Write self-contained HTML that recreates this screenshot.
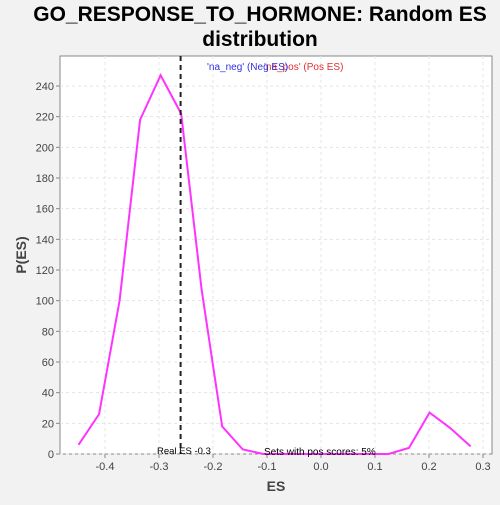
<!DOCTYPE html>
<html><head><meta charset="utf-8"><style>
body{margin:0;background:#f2f2f2;width:500px;height:500px;overflow:hidden;font-family:"Liberation Sans",sans-serif}
</style></head><body>
<svg width="500" height="500" xmlns="http://www.w3.org/2000/svg">
<rect x="0" y="0" width="500" height="500" fill="#f2f2f2"/>
<text x="260" y="21" text-anchor="middle" font-size="21" font-weight="bold" fill="#000">GO_RESPONSE_TO_HORMONE: Random ES</text>
<text x="260" y="46" text-anchor="middle" font-size="21" font-weight="bold" fill="#000">distribution</text>
<rect x="60" y="56" width="432" height="398" fill="#fff" stroke="#888"/>
<g id="grid"></g><g id="axes"></g><g id="series"></g>
<text x="276" y="491" text-anchor="middle" font-size="14" font-weight="bold" fill="#444">ES</text>
<text x="26" y="255" text-anchor="middle" font-size="14" font-weight="bold" fill="#444" transform="rotate(-90 26 255)">P(ES)</text>
<text x="264" y="70" font-size="10" fill="#e03030">'na_pos' (Pos ES)</text>
<text x="207" y="70" font-size="10" fill="#3030e0">'na_neg' (Neg ES)</text>
<text x="157" y="454" font-size="9.5" fill="#000">Real ES -0.3</text>
<text x="264" y="455" font-size="10" fill="#000">Sets with pos scores: 5%</text>
</svg>
<script>
const esValues=[-0.449,-0.411,-0.373,-0.335,-0.297,-0.259,-0.221,-0.183,-0.145,-0.107,-0.069,-0.031,0.007,0.049,0.087,0.125,0.163,0.201,0.239,0.277];
const density=[6,26,100,218,247,222,107,18,3,0,0,0,0,0,0,0,4,27,17,5];
const xTicks=[-0.4,-0.3,-0.2,-0.1,0.0,0.1,0.2,0.3];
const xTickLabels=["-0.4","-0.3","-0.2","-0.1","0.0","0.1","0.2","0.3"];
const yTicks=[0,20,40,60,80,100,120,140,160,180,200,220,240];
const realES=-0.26;
const NS="http://www.w3.org/2000/svg";
const X=v=>321+v*540;
const Y=v=>454-v*(368/240);
function mk(t,a,p){const e=document.createElementNS(NS,t);for(const k in a)e.setAttribute(k,a[k]);document.getElementById(p).appendChild(e);return e;}
xTicks.forEach((t,i)=>{
 const g=mk('line',{x1:X(t),x2:X(t),y1:56,y2:454,stroke:'#e4e4e4','stroke-dasharray':'3,3'},'grid');
 
 
 const tk=mk('line',{x1:X(t),x2:X(t),y1:454,y2:458,stroke:'#888'},'axes');
 
 
 const l=mk('text',{x:X(t),y:470,'text-anchor':'middle','font-size':11,fill:'#444'},'axes');
 l.textContent=xTickLabels[i];
 
 
});
yTicks.forEach(t=>{
 const g=mk('line',{x1:60,x2:492,y1:Y(t),y2:Y(t),stroke:'#e4e4e4','stroke-dasharray':'3,3'},'grid');
 
 
 const tk=mk('line',{x1:56,x2:60,y1:Y(t),y2:Y(t),stroke:'#888'},'axes');
 
 
 const l=mk('text',{x:54,y:Y(t)+4,'text-anchor':'end','font-size':11,fill:'#444'},'axes');
 l.textContent=t;
 
 
});
const pl=mk('polyline',{points:esValues.map((v,i)=>X(v)+','+Y(density[i])).join(' '),fill:'none',stroke:'#ff33ff','stroke-width':2},'series');


const rl=mk('line',{x1:X(realES),x2:X(realES),y1:56,y2:454,stroke:'#222','stroke-width':2,'stroke-dasharray':'5,4'},'series');


</script>
</body></html>
